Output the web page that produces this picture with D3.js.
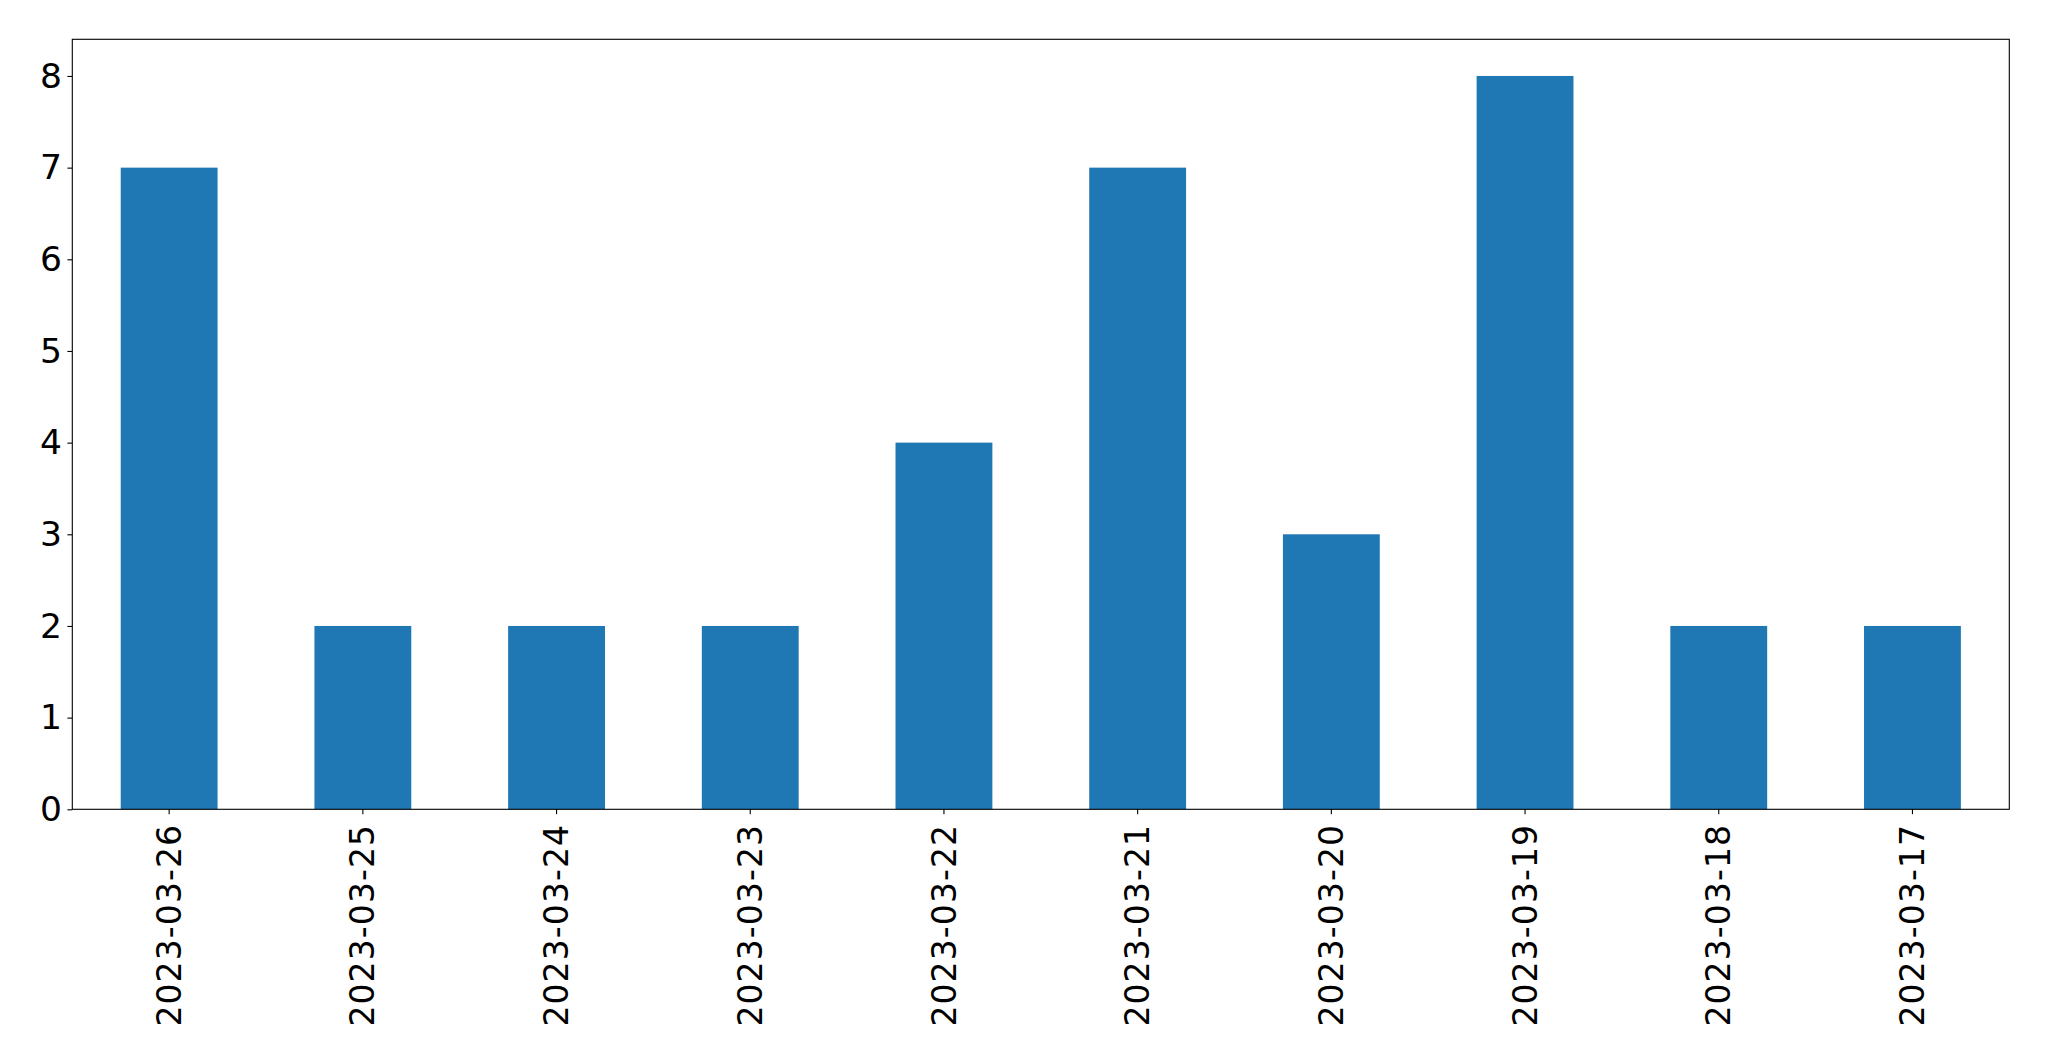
<!DOCTYPE html>
<html>
<head>
<meta charset="utf-8">
<script src="https://cdn.jsdelivr.net/npm/d3@7"></script>
<style>
  body { margin: 0; background: #fff; }
  .tick text { font-family: "DejaVu Sans", sans-serif; }
</style>
</head>
<body>
<svg class="chart"></svg>
<script>
// dates on the x axis, in the order they appear
const dates = ["2023-03-26", "2023-03-25", "2023-03-24", "2023-03-23", "2023-03-22",
  "2023-03-21", "2023-03-20", "2023-03-19", "2023-03-18", "2023-03-17"];
// counts per date
const counts = [7, 2, 2, 2, 4, 7, 3, 8, 2, 2];
// y tick values
const yTicks = [0, 1, 2, 3, 4, 5, 6, 7, 8];

const width = 2049, height = 1061;
const margin = { left: 72.3, right: 2049 - 2009.3, top: 39.3, bottom: 1061 - 809.3 };
const plotW = width - margin.left - margin.right;
const plotH = height - margin.top - margin.bottom;

const svg = d3.select(".chart")
  .attr("width", width)
  .attr("height", height);

const chart = svg.append("g")
  .attr("transform", "translate(" + margin.left + "," + margin.top + ")");

// x is a band scale, bars take half the band like pandas' default
const x = d3.scaleBand().domain(dates).range([0, plotW]).paddingInner(0.5).paddingOuter(0.25);
const y = d3.scaleLinear().domain([0, 8.4]).range([plotH, 0]);

const rows = dates.map((d, i) => ({ date: d, value: counts[i] }));

chart.selectAll("rect.bar")
  .data(rows)
  .enter()
  .append("rect")
  .attr("class", "bar")
  .attr("x", d => x(d.date))
  .attr("y", d => y(d.value))
  .attr("width", x.bandwidth())
  .attr("height", d => plotH - y(d.value))
  .attr("fill", "#1f77b4");

// y axis
const yAxis = chart.append("g")
  .call(d3.axisLeft(y).tickValues(yTicks).tickFormat(d3.format("d")).tickSize(4.9).tickPadding(5.5));
yAxis.select(".domain").remove();
yAxis.selectAll("line").attr("stroke", "#000").attr("stroke-width", 1.1);
yAxis.selectAll("text").attr("font-size", 34.5).attr("fill", "#000");

// x axis with rotated labels
const xAxis = chart.append("g")
  .attr("transform", "translate(0," + plotH + ")")
  .call(d3.axisBottom(x).tickSize(4.9).tickPadding(0));
xAxis.select(".domain").remove();
xAxis.selectAll("line").attr("stroke", "#000").attr("stroke-width", 1.1);
xAxis.selectAll("text")
  .attr("font-size", 33)
  .attr("letter-spacing", 1.1)
  .attr("fill", "#000")
  .attr("text-anchor", "end")
  .attr("x", 0)
  .attr("y", 0)
  .attr("dy", "0.35em")
  .attr("transform", "translate(0,14.5) rotate(-90)");

// frame
chart.append("rect")
  .attr("width", plotW)
  .attr("height", plotH)
  .attr("fill", "none")
  .attr("stroke", "#000")
  .attr("stroke-width", 1.1);
</script>
</body>
</html>
